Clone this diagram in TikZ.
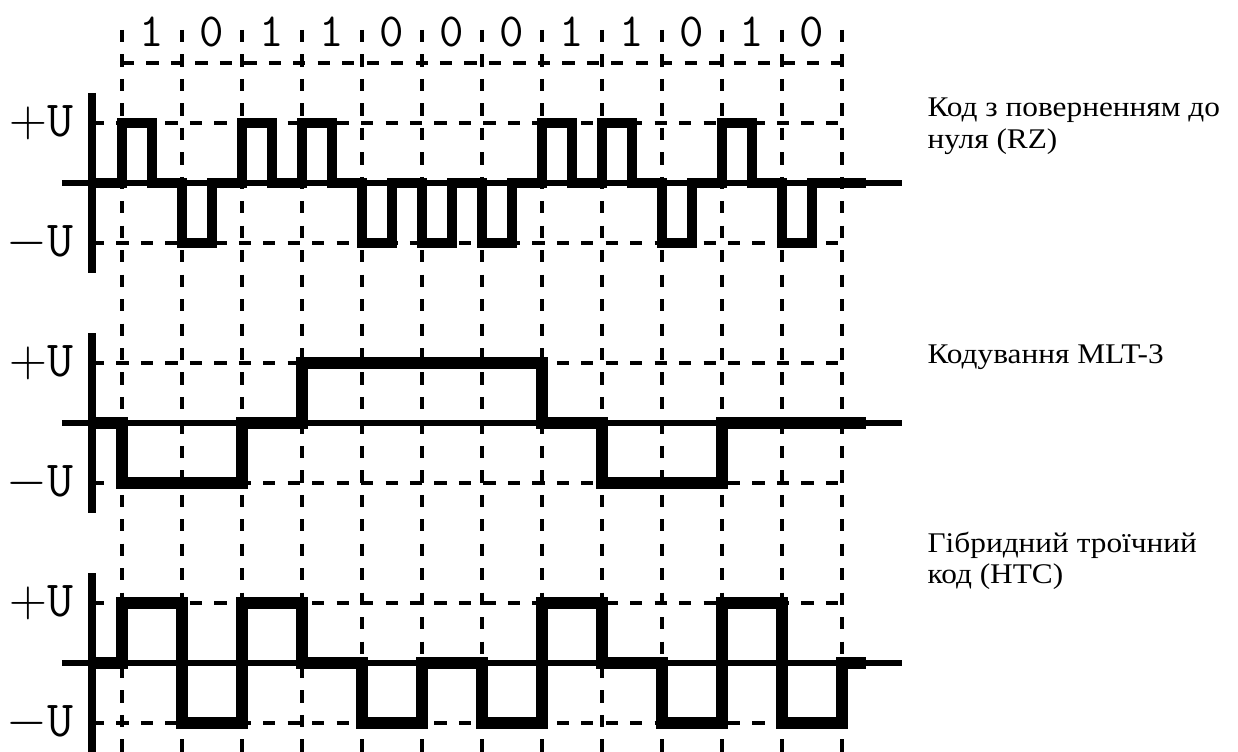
\documentclass[tikz,border=0pt]{standalone}
\usepackage{fontspec}
\setmainfont{Liberation Serif}
\newfontfamily\lblfont[FakeStretch=1.1]{Liberation Serif}
\usetikzlibrary{positioning}

\begin{document}
\begin{tikzpicture}[x=1cm,y=1cm,
 gridline/.style={line width=2.3pt,dash pattern=on 5.8pt off 5.8pt},
 axis/.style={line width=4pt},
 zero/.style={line width=3.1pt},
 sig/.style={line width=5.5pt,line join=miter},
 lvl/.style={font=\ttfamily\fontsize{24}{24}\selectfont,inner sep=0pt,anchor=east},
 bit/.style={font=\ttfamily\fontsize{22.5}{22.5}\selectfont,inner sep=0pt},
 codelbl/.style={font=\lblfont\fontsize{13.5}{15}\selectfont,align=left,anchor=west,inner sep=0pt}]
 \useasboundingbox (-2.033,-9.467) rectangle (18.6,3.05);
 % clock grid
 \foreach \x in {0,...,12} \draw[gridline] (\x,2.55) -- (\x,-9.6);
 \draw[gridline] (0,2) -- (12,2);
 \foreach \b [count=\i from 0] in {1,0,1,1,0,0,0,1,1,0,1,0}
  \node[bit] (b\i) at (\i+0.5,2.52) {\b};
 % levels and axes
 \foreach \y/\n in {0/rz,-4/mlt,-8/htc} {
  \draw[gridline] (-0.5,\y+1) -- (12,\y+1);
  \draw[gridline] (-0.5,\y-1) -- (12,\y-1);
  \draw[zero] (-1,\y) -- (13,\y);
  \draw[axis] (-0.5,\y+1.5) -- (-0.5,\y-1.5);
  \node[lvl] (\n-p) at (-0.8,\y+1) {$+$U};
  \node[lvl] (\n-m) at (-0.8,\y-1) {$-$U};
 }
 % RZ
 \draw[sig,line width=4.3pt] (-0.5,0)
  \foreach \b [count=\i from 0] in {1,0,1,1,0,0,0,1,1,0,1,0}
   { -- (\i,0) -- (\i,2*\b-1) -- (\i+0.5,2*\b-1) -- (\i+0.5,0) } -- (12.4,0);
 % MLT-3
 \draw[sig] (-0.5,-4) -- (0,-4) -- (0,-5) -- (2,-5) -- (2,-4) -- (3,-4) -- (3,-3)
  -- (7,-3) -- (7,-4) -- (8,-4) -- (8,-5) -- (10,-5) -- (10,-4) -- (12.4,-4);
 % HTC
 \draw[sig] (-0.5,-8) -- (0,-8) -- (0,-7) -- (1,-7) -- (1,-9) -- (2,-9) -- (2,-7)
  -- (3,-7) -- (3,-8) -- (4,-8) -- (4,-9) -- (5,-9) -- (5,-8) -- (6,-8) -- (6,-9)
  -- (7,-9) -- (7,-7) -- (8,-7) -- (8,-8) -- (9,-8) -- (9,-9) -- (10,-9) -- (10,-7)
  -- (11,-7) -- (11,-9) -- (12,-9) -- (12,-8) -- (12.4,-8);
 \node[codelbl] (rz) at (13.42,0.95) {Код з поверненням до\\нуля (RZ)};
 \node[codelbl] (mlt) at (13.42,-2.9) {Кодування MLT-3};
 \node[codelbl] (htc) at (13.42,-6.3) {Гібридний троїчний\\код (HTC)};
\end{tikzpicture}
\end{document}
